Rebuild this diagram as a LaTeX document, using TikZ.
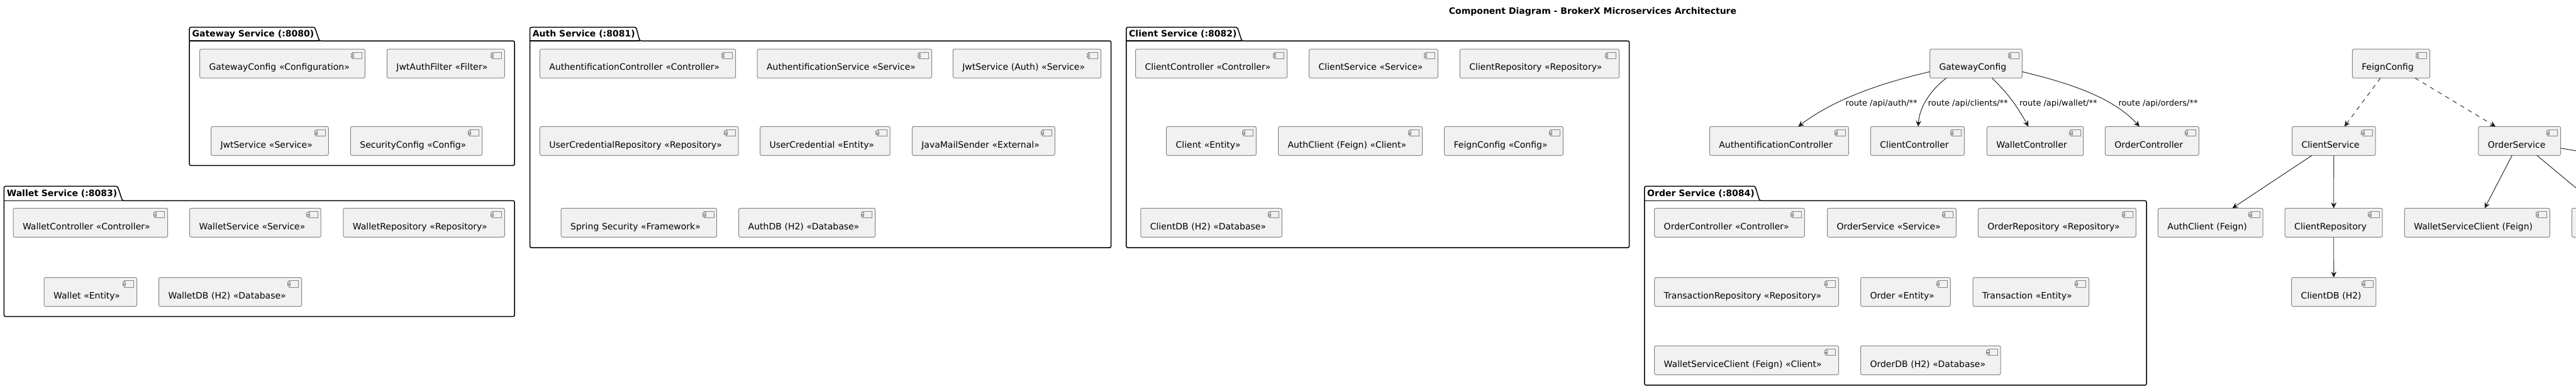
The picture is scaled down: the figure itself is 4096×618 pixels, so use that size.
\documentclass[tikz,border=0pt]{standalone}
\usepackage{fontspec}
\setmainfont{DejaVu Sans}
\usepackage{xcolor}
\usetikzlibrary{arrows.meta,calc}
\definecolor{compfill}{HTML}{F1F1F1}
\definecolor{compline}{HTML}{858585}
\definecolor{edgeline}{HTML}{181818}

\begin{document}
\begin{tikzpicture}[x=0.5pt, y=-0.5pt,
    comp/.style={draw=compline, fill=compfill, line width=0.5pt, rounded corners=1.25pt,
        anchor=north west, inner sep=0pt, outer sep=0pt, text width={#1*0.5pt}, align=left,
        text height=16.85pt, text depth=6.15pt, font=\fontsize{7pt}{8pt}\selectfont,
        execute at begin node={\hspace*{7.5pt}},
        path picture={
            \coordinate (ne) at (path picture bounding box.north east);
            \draw[compline, sharp corners, line width=0.35pt] ($(ne)+(-10.0pt,-2.4pt)$) rectangle ($(ne)+(-2.4pt,-7.7pt)$);
            \draw[compline, sharp corners, fill=compfill, line width=0.35pt] ($(ne)+(-11.2pt,-3.6pt)$) rectangle ($(ne)+(-8.9pt,-4.8pt)$);
            \draw[compline, sharp corners, fill=compfill, line width=0.35pt] ($(ne)+(-11.2pt,-5.4pt)$) rectangle ($(ne)+(-8.9pt,-6.6pt)$);
        }},
    tall/.style={text depth=6.85pt},
    pkgline/.style={draw=black, line width=0.75pt, rounded corners=1.25pt},
    pkglabel/.style={anchor=base west, inner sep=0pt, font=\fontsize{7pt}{8pt}\selectfont\bfseries},
    routelabel/.style={anchor=base west, inner sep=0pt, font=\fontsize{6.5pt}{8pt}\selectfont},
    dep/.style={draw=edgeline, line width=0.45pt, -{Stealth[length=4.6pt,width=4.4pt,inset=1.6pt]}},
    free/.style={draw=edgeline, line width=0.45pt}]
    \useasboundingbox (0,0) rectangle (4096,618);

    % Title
    \node[anchor=base, inner sep=0pt, font=\fontsize{7pt}{8pt}\selectfont\bfseries] (diagramTitle) at (2532.5,22.5)
        {Component Diagram - BrokerX Microservices Architecture};

    % Gateway Service
    \draw[pkgline] (301,65) -- (301,43.4) -- (500.6,43.4) -- (507.7,65) -- (818.2,65) -- (818.2,263.3) -- (301,263.3) -- cycle;
    \draw[line width=0.75pt] (301,65) -- (507.7,65);
    \node[pkglabel] (gatewayPkg) at (305.3,58.3) {Gateway Service (:8080)};
    \node[comp=262.8] (gwConfig) at (317.6,78.2) {GatewayConfig «Configuration»};
    \node[comp=186.9] (gwFilter) at (615.4,78.2) {JwtAuthFilter «Filter»};
    \node[comp=186.8] (gwJwt) at (335.5,201.3) {JwtService «Service»};
    \node[comp=209.2] (gwSecurity) at (557.4,201.3) {SecurityConfig «Config»};

    % Wallet Service
    \draw[pkgline] (6.4,319.3) -- (6.4,296.4) -- (187,296.4) -- (194.5,319.3) -- (818.2,319.3) -- (818.2,503.7) -- (6.4,503.7) -- cycle;
    \draw[line width=0.75pt] (6.4,319.3) -- (194.5,319.3);
    \node[pkglabel] (walletPkg) at (10.4,312) {Wallet Service (:8083)};
    \node[tall, comp=245.6] (wlController) at (21,331.3) {WalletController «Controller»};
    \node[tall, comp=208.5] (wlService) at (301.7,331.3) {WalletService «Service»};
    \node[tall, comp=256.4] (wlRepository) at (545.9,331.3) {WalletRepository «Repository»};
    \node[comp=147.3] (wlEntity) at (70.2,441.5) {Wallet «Entity»};
    \node[comp=227] (wlDatabase) at (252.6,441.5) {WalletDB (H2) «Database»};

    % Auth Service
    \draw[pkgline] (842.5,65) -- (842.5,43.4) -- (1011.5,43.4) -- (1017.2,65) -- (1766.6,65) -- (1766.6,394.2) -- (842.5,394.2) -- cycle;
    \draw[line width=0.75pt] (842.5,65) -- (1017.2,65);
    \node[pkglabel] (authPkg) at (846.5,58.3) {Auth Service (:8081)};
    \node[comp=311.2] (auController) at (858.4,78.2) {AuthentificationController «Controller»};
    \node[comp=277.4] (auService) at (1204.1,78.2) {AuthentificationService «Service»};
    \node[comp=235.3] (auJwt) at (1515.3,78.2) {JwtService (Auth) «Service»};
    \node[comp=315.7] (auRepository) at (858.4,201.3) {UserCredentialRepository «Repository»};
    \node[comp=206.7] (auEntity) at (1208.5,201.3) {UserCredential «Entity»};
    \node[comp=227] (auMail) at (1450.3,201.3) {JavaMailSender «External»};
    \node[tall, comp=247.5] (auSpring) at (892.2,331.3) {Spring Security «Framework»};
    \node[tall, comp=216.9] (auDatabase) at (1174.7,331.3) {AuthDB (H2) «Database»};

    % Client Service
    \draw[pkgline] (1790.8,65) -- (1790.8,43.4) -- (1967.5,43.4) -- (1974.5,65) -- (2590.6,65) -- (2590.6,394.2) -- (1790.8,394.2) -- cycle;
    \draw[line width=0.75pt] (1790.8,65) -- (1974.5,65);
    \node[pkglabel] (clientPkg) at (1794.8,58.3) {Client Service (:8082)};
    \node[comp=241.1] (clController) at (1805.5,78.2) {ClientController «Controller»};
    \node[comp=204.8] (clService) at (2081.6,78.2) {ClientService «Service»};
    \node[comp=253.2] (clRepository) at (2321.4,78.2) {ClientRepository «Repository»};
    \node[comp=142.8] (clEntity) at (1854.6,201.3) {Client «Entity»};
    \node[comp=229] (clAuthClient) at (2032.5,201.3) {AuthClient (Feign) «Client»};
    \node[comp=188.7] (clFeign) at (2296.6,201.3) {FeignConfig «Config»};
    \node[tall, comp=224.5] (clDatabase) at (1813.8,331.3) {ClientDB (H2) «Database»};

    % Order Service
    \draw[pkgline] (2614.8,319.3) -- (2614.8,296.4) -- (2790.8,296.4) -- (2797.8,319.3) -- (3413,319.3) -- (3413,612.9) -- (2614.8,612.9) -- cycle;
    \draw[line width=0.75pt] (2614.8,319.3) -- (2797.8,319.3);
    \node[pkglabel] (orderPkg) at (2618.8,312) {Order Service (:8084)};
    \node[tall, comp=238.6] (orController) at (2630.7,331.3) {OrderController «Controller»};
    \node[tall, comp=204.8] (orService) at (2905.6,331.3) {OrderService «Service»};
    \node[tall, comp=250.9] (orRepository) at (3145.4,331.3) {OrderRepository «Repository»};
    \node[comp=292.8] (orTransRepo) at (2630.7,441.5) {TransactionRepository «Repository»};
    \node[comp=142.8] (orEntity) at (2958.5,441.5) {Order «Entity»};
    \node[comp=184.5] (orTransaction) at (3137,441.5) {Transaction «Entity»};
    \node[comp=292.8] (orWalletClient) at (2630.7,550.3) {WalletServiceClient (Feign) «Client»};
    \node[comp=222.5] (orDatabase) at (2958.5,550.3) {OrderDB (H2) «Database»};

    % Gateway routes
    \node[comp=146.8] (gatewayConfig) at (3068.5,78.2) {GatewayConfig};
    \node[comp=221] (authController) at (2718.3,201.3) {AuthentificationController};
    \node[comp=149] (clientController) at (2974.3,201.3) {ClientController};
    \node[comp=153.4] (walletController) at (3159.3,201.3) {WalletController};
    \node[comp=149] (orderController) at (3347.4,201.3) {OrderController};
    \draw[dep] (gatewayConfig.190) .. controls (3000,130) and (2920,155) .. (authController.37.9);
    \draw[dep] (gatewayConfig.206.9) .. controls (3070,143) and (3052,170) .. (clientController.87);
    \draw[dep] (gatewayConfig.318.4) .. controls (3190,146) and (3205,165) .. (walletController.115.6);
    \draw[dep] (gatewayConfig.350.5) .. controls (3290,132) and (3360,155) .. (orderController.131.6);
    \node[routelabel] (routeAuth) at (2934.3,168.3) {route /api/auth/**};
    \node[routelabel] (routeClients) at (3065.3,168.3) {route /api/clients/**};
    \node[routelabel] (routeWallet) at (3210.7,168.3) {route /api/wallet/**};
    \node[routelabel] (routeOrders) at (3368.2,168.3) {route /api/orders/**};

    % Feign and services
    \node[comp=123.2] (feignConfig) at (3740.4,78.2) {FeignConfig};
    \node[comp=132.6] (clientService) at (3644.5,201.3) {ClientService};
    \node[comp=130.7] (orderService) at (3940.8,201.3) {OrderService};
    \node[tall, comp=166.8] (authClient) at (3431.4,331.3) {AuthClient (Feign)};
    \node[tall, comp=155] (clientRepository) at (3633.2,331.3) {ClientRepository};
    \node[tall, comp=231] (walletClient) at (3823.3,331.3) {WalletServiceClient (Feign)};
    \node[tall, comp=40] (cutBox) at (4089.3,331.3) {};
    \node[comp=134.2] (clientDb) at (3643.7,441.5) {ClientDB (H2)};
    \coordinate (cutLow) at (4096,299);
    \coordinate (cutSide) at (4096,240);

    \draw[dep, dash pattern=on 3.5pt off 3.5pt] (feignConfig) -- (clientService);
    \draw[dep, dash pattern=on 3.5pt off 3.5pt] (feignConfig) -- (orderService);
    \draw[dep] (clientService) -- (authClient);
    \draw[dep] (clientService) -- (clientRepository);
    \draw[dep] (clientRepository) -- (clientDb);
    \draw[dep] (orderService) -- (walletClient);
    \draw[free] (orderService) -- (cutLow);
    \draw[free] (orderService) -- (cutSide);
\end{tikzpicture}
\end{document}
